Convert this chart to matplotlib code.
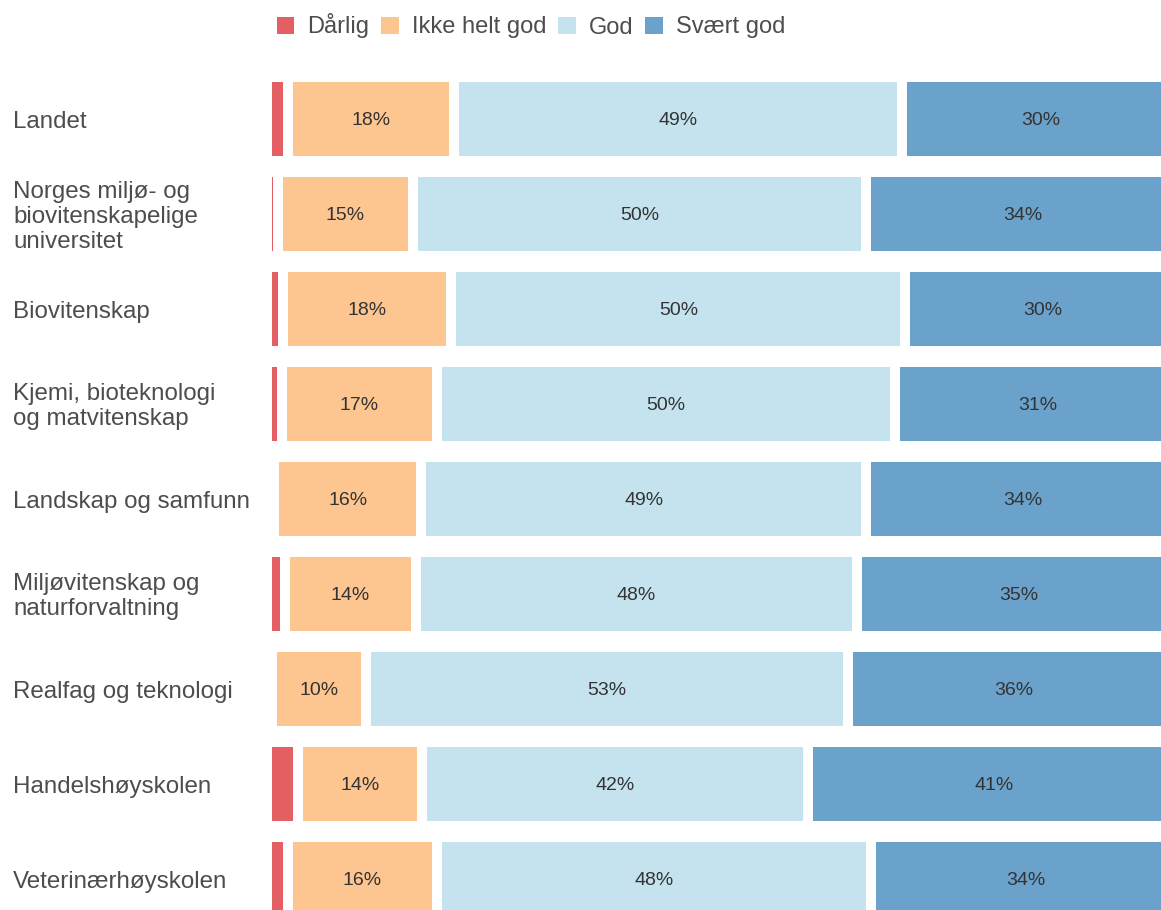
import matplotlib
matplotlib.use("Agg")
import matplotlib.pyplot as plt
from matplotlib.patches import Patch
import matplotlib.transforms as mtransforms

plt.rcParams['font.family'] = ['Liberation Sans', 'DejaVu Sans']

# kategorier (øverst til nederst)
categories = [
    "Landet",
    "Norges miljø- og\nbiovitenskapelige\nuniversitet",
    "Biovitenskap",
    "Kjemi, bioteknologi\nog matvitenskap",
    "Landskap og samfunn",
    "Miljøvitenskap og\nnaturforvaltning",
    "Realfag og teknologi",
    "Handelshøyskolen",
    "Veterinærhøyskolen",
]

series_names = ["Dårlig", "Ikke helt god", "God", "Svært god"]
darlig = [2.3, 1.2, 1.8, 1.6, 0.8, 2.0, 0.5, 3.4, 2.3]
ikke_helt_god = [18.2, 14.8, 18.4, 17.0, 16.1, 14.3, 10.3, 13.6, 16.3]
god = [49.1, 49.6, 49.7, 50.2, 48.7, 48.3, 52.8, 42.3, 47.6]
svaert_god = [30.4, 34.4, 30.1, 31.2, 34.4, 35.4, 36.4, 40.7, 33.8]

colors = ["#e35f63", "#fdc590", "#c5e3ee", "#6aa2cb"]

fig = plt.figure(figsize=(11.61, 9.10), dpi=100)
# aksene går litt utenfor figuren til høyre og nederst (som i originalen)
ax = fig.add_axes([267 / 1161, -16.5 / 910, 913 / 1161, 855 / 910])

y = list(range(len(categories)))
left = [0.0] * len(categories)
for name, vals, col in zip(series_names, [darlig, ikke_helt_god, god, svaert_god], colors):
    ax.barh(y, vals, left=left, height=0.885, color=col, edgecolor="white",
            linewidth=7.2, label=name)
    if name != "Dårlig":
        for yi, l, v in zip(y, left, vals):
            ax.text(l + v / 2, yi + 0.02, f"{v:.0f}%", ha="center", va="center",
                    fontsize=14, color="#333333")
    left = [l + v for l, v in zip(left, vals)]

ax.set_xlim(0, 100)
ax.set_ylim(len(categories) - 0.5, -0.5)
ax.axis("off")

trans = mtransforms.blended_transform_factory(fig.transFigure, ax.transData)
for yi, cat in zip(y, categories):
    ax.text(13 / 1161, yi + 0.03, cat, transform=trans, ha="left", va="center",
            fontsize=17.4, color="#4d4d4d", linespacing=1.17)

handles = [Patch(facecolor=c, edgecolor="none") for c in colors]
fig.legend(handles, series_names, loc="center", bbox_to_anchor=(531 / 1161, 1 - 26 / 910),
           ncol=4, frameon=False, fontsize=17, handlelength=0.75, handleheight=0.75,
           handletextpad=0.55, columnspacing=0.5, labelcolor="#4d4d4d")

fig.savefig("out.png", dpi=100)
